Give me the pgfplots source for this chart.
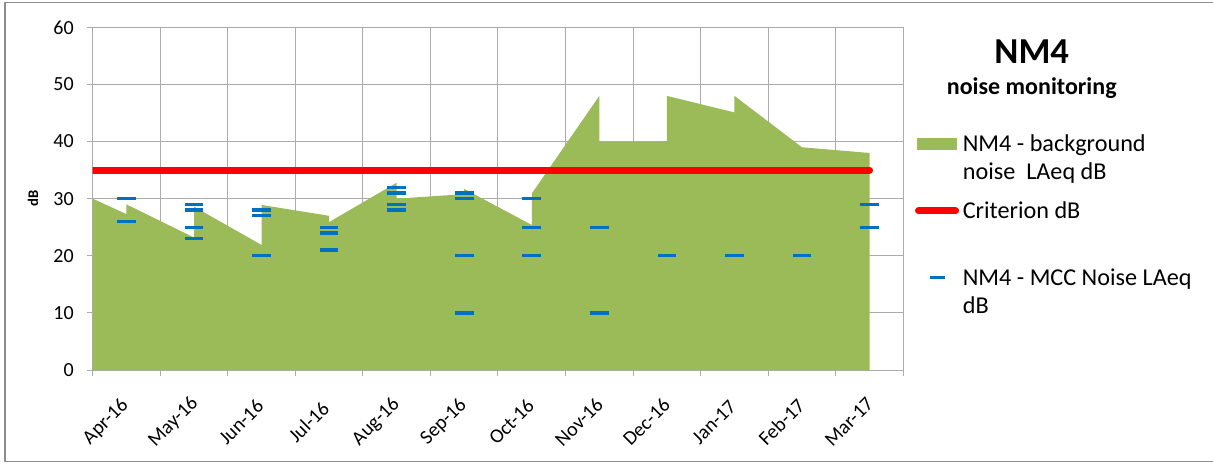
\documentclass[border=0pt]{standalone}
\usepackage{fontspec}
\setmainfont{Carlito}
\usepackage{pgfplots}
\pgfplotsset{compat=1.18}
\definecolor{areagreen}{HTML}{9BBB59}
\definecolor{critred}{HTML}{FF0000}
\definecolor{mccblue}{HTML}{0070C0}
\definecolor{gridgray}{HTML}{ABABAB}
\definecolor{framegray}{HTML}{8C8C8C}
\begin{document}
\begin{tikzpicture}
\path[use as bounding box] (-69.5pt,-69.75pt) rectangle (840.2pt,277.5pt);
\draw[framegray, line width=1.1pt] (845pt,275.5pt) -- (-65.8pt,275.5pt) -- (-65.8pt,-68.8pt) -- (845pt,-68.8pt);
\begin{axis}[
  at={(0pt,0pt)}, anchor=south west,
  scale only axis, width=607.95pt, height=257pt,
  xmin=0, xmax=12, ymin=0, ymax=60,
  xtick={0,...,12},
  xticklabels={Apr-16,May-16,Jun-16,Jul-16,Aug-16,Sep-16,Oct-16,Nov-16,Dec-16,Jan-17,Feb-17,Mar-17,{}},
  ytick={0,10,...,60},
  tick pos=left, tick align=outside, major tick length=4.5pt,
  tick style={gridgray, line width=0.75pt},
  grid=major, major grid style={gridgray, line width=0.75pt},
  axis line style={gridgray, line width=0.75pt},
  /pgf/number format/assume math mode=true,
  tick label style={font=\fontsize{15}{18}\selectfont},
  yticklabel style={anchor=east, inner sep=0pt, xshift=-9.5pt},
  xticklabel style={inner sep=0pt, anchor=center, xshift=10pt, yshift=-34.5pt, rotate=45},
  ylabel={dB},
  ylabel style={at={(axis description cs:-0.0737,0.5)}, anchor=center, font=\fontsize{11}{13}\selectfont\bfseries},
  extra description/.code={
    \node[anchor=base, inner sep=0pt, font=\fontsize{27.4}{32}\selectfont\bfseries] at (axis description cs:1.1584,0.8952) {NM4};
    \node[anchor=base, inner sep=0pt, font=\fontsize{18}{22}\selectfont\bfseries] at (axis description cs:1.1584,0.8040) {noise monitoring};},
  legend cell align=left,
  legend style={at={(axis description cs:1.01443,0.6948)}, anchor=north west, draw=none, fill=none, inner sep=0pt, outer sep=0pt, row sep=12.6pt, column sep=2.8pt, font=\fontsize{18.15}{21.2}\selectfont, nodes={inner sep=0pt}, cells={anchor=west, align=left}},
]
\addplot[draw=none, fill=areagreen,
  legend image code/.code={\fill[areagreen] (-15pt,5.2pt) rectangle (15pt,14.2pt);}]
  coordinates {(0,30) (0.5,27.3) (0.5,29) (1.5,23.2) (1.5,28.6) (2.5,21.9) (2.5,28.9) (3.5,27) (3.5,25.9) (4.5,32.8) (4.5,30) (5.5,30.8) (5.5,31.7) (6.5,25.4) (6.5,30.9) (7.5,48) (7.5,40) (8.5,40) (8.5,48) (9.5,45.1) (9.5,48) (10.5,39) (11.5,38)} \closedcycle;
\addlegendentry{\strut NM4 - background\\\strut noise\ \ LAeq dB}
\addplot[critred, line width=5.25pt, line cap=round,
  legend image code/.code={\draw[critred, line width=5.25pt, line cap=round] (-13.9pt,9.7pt) -- (13.9pt,9.7pt);}]
  coordinates {(0,35) (11.5,35)};
\addlegendentry{\strut Criterion dB\\\strut}
\addplot[only marks, mark=-, mark size=7pt, mark options={mccblue, line width=2.5pt},
  legend image code/.code={\draw[mccblue, line width=2.5pt] (-5.6pt,9.7pt) -- (5.6pt,9.7pt);}]
  coordinates {(0.5,30) (0.5,26)
    (1.5,29) (1.5,28) (1.5,25) (1.5,23)
    (2.5,28) (2.5,27) (2.5,20)
    (3.5,25) (3.5,24) (3.5,21)
    (4.5,32) (4.5,31) (4.5,29) (4.5,28)
    (5.5,31) (5.5,30) (5.5,20) (5.5,10)
    (6.5,30) (6.5,25) (6.5,20)
    (7.5,25) (7.5,10)
    (8.5,20) (9.5,20) (10.5,20)
    (11.5,29) (11.5,25)};
\addlegendentry{\strut NM4 - MCC Noise LAeq\\\strut dB}
\end{axis}
\end{tikzpicture}
\end{document}
